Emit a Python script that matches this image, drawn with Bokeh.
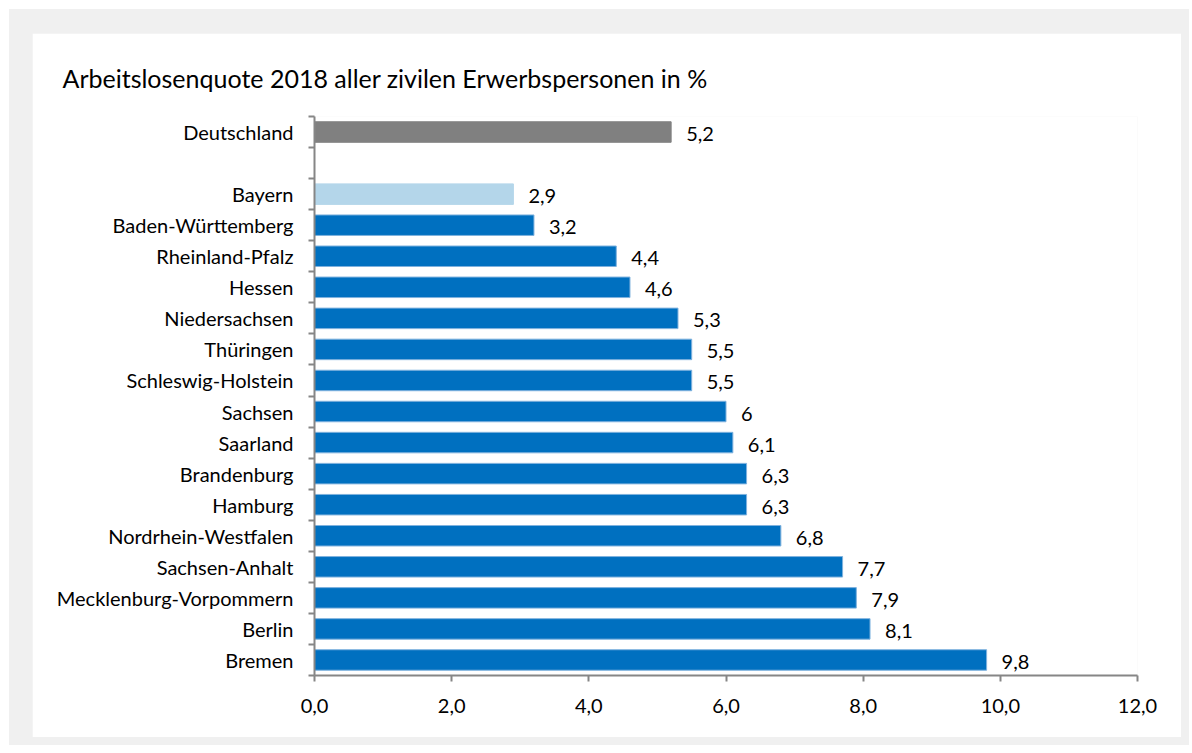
from bokeh.plotting import figure
from bokeh.models import Range1d, FixedTicker, Title, ColumnDataSource
from bokeh.layouts import column
from bokeh.embed import file_html
from bokeh.resources import INLINE
from bokeh.core.properties import value

title_text = "Arbeitslosenquote 2018 aller zivilen Erwerbspersonen in %"
regions = ["Deutschland", "Bayern", "Baden-Württemberg", "Rheinland-Pfalz", "Hessen",
           "Niedersachsen", "Thüringen", "Schleswig-Holstein", "Sachsen", "Saarland",
           "Brandenburg", "Hamburg", "Nordrhein-Westfalen", "Sachsen-Anhalt",
           "Mecklenburg-Vorpommern", "Berlin", "Bremen"]
rates = [5.2, 2.9, 3.2, 4.4, 4.6, 5.3, 5.5, 5.5, 6.0, 6.1, 6.3, 6.3, 6.8, 7.7, 7.9, 8.1, 9.8]
x_ticks = [0, 2, 4, 6, 8, 10, 12]
x_tick_labels = ["0,0", "2,0", "4,0", "6,0", "8,0", "10,0", "12,0"]

FONT = "Lato"
GRAY_AX = "#868686"

# slot positions: Deutschland, an empty slot, then the Länder
pos = [0.5] + [i + 1.5 for i in range(1, len(regions))]
n_slots = len(regions) + 1
colors = []
for r in regions:
    if r == "Deutschland":
        colors.append("#808080")
    elif r == "Bayern":
        colors.append("#b4d6ea")
    else:
        colors.append("#0070c0")
line_colors = ["#808080" if c == "#808080" else ("#b4d6ea" if c == "#b4d6ea" else "#7fb2de") for c in colors]
labels = [f"{v:g}".replace(".", ",") for v in rates]

src = ColumnDataSource(dict(y=pos, v=rates, c=colors, lc=line_colors, t=labels))

p = figure(width=1149, height=704, output_backend="svg", toolbar_location=None,
           x_range=Range1d(0, 12), y_range=Range1d(n_slots, 0),
           min_border_left=282, min_border_right=44, min_border_top=83, min_border_bottom=62)
p.background_fill_color = "white"
p.border_fill_color = "white"
p.outline_line_color = None
p.xgrid.visible = False
p.ygrid.visible = False

p.hbar(y="y", right="v", left=0, height=0.66, fill_color="c", line_color="lc", line_width=1, source=src)
p.text(x="v", y="y", text="t", x_offset=15, y_offset=2, text_baseline="middle", text_align="left",
       text_font=value(FONT), text_font_size="20px", text_color="black", source=src)

# x axis
xa = p.xaxis[0]
xa.ticker = FixedTicker(ticks=x_ticks)
xa.major_label_overrides = {t: l for t, l in zip(x_ticks, x_tick_labels)}
xa.axis_line_color = GRAY_AX
xa.axis_line_width = 2
xa.major_tick_line_color = GRAY_AX
xa.major_tick_line_width = 2
xa.major_tick_in = 0
xa.major_tick_out = 6
xa.minor_tick_line_color = None
xa.major_label_text_font = FONT
xa.major_label_text_font_size = "20px"
xa.major_label_text_color = "black"
xa.major_label_standoff = 17

# y axis
ya = p.yaxis[0]
ya.ticker = FixedTicker(ticks=pos, minor_ticks=list(range(0, n_slots + 1)))
ya.major_label_overrides = {y: r for y, r in zip(pos, regions)}
ya.axis_line_color = GRAY_AX
ya.axis_line_width = 2
ya.major_tick_line_color = None
ya.major_tick_in = 0
ya.major_tick_out = 0
ya.minor_tick_line_color = GRAY_AX
ya.minor_tick_line_width = 2
ya.minor_tick_in = 0
ya.minor_tick_out = 6
ya.major_label_text_font = FONT
ya.major_label_text_font_size = "20px"
ya.major_label_text_color = "black"
ya.major_label_standoff = 15

p.add_layout(Title(text=title_text, align="left", offset=-252, standoff=48,
                   text_font=FONT, text_font_size="25px", text_font_style="normal",
                   text_color="black"), "above")

layout = column(p, styles={"background-color": "#f0f0f0", "padding": "24px 8px 8px 23px",
                           "margin": "9px 0 0 9px"})

open("out.html", "w").write(file_html(layout, INLINE))
